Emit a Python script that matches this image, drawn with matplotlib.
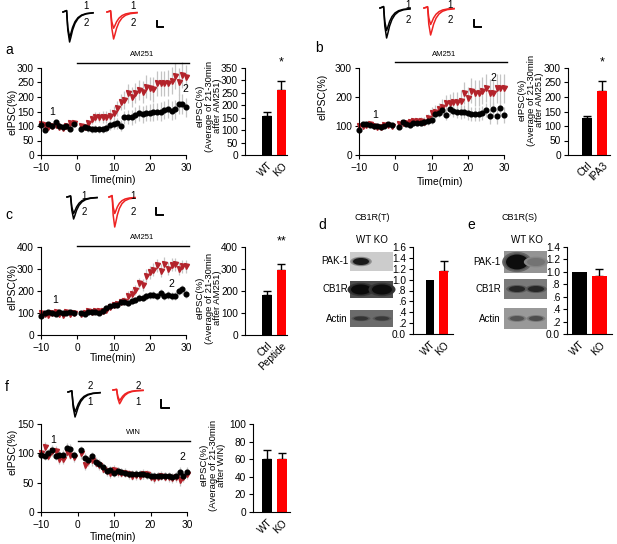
import numpy as np
import matplotlib
matplotlib.use('Agg')
import matplotlib.pyplot as plt
from matplotlib.patches import Ellipse, Rectangle

plt.rcParams['font.family'] = ['Liberation Sans', 'DejaVu Sans']
plt.rcParams['font.size'] = 7.5
plt.rcParams['axes.linewidth'] = 0.8

# ---------------- data ----------------
time = list(range(-10, 0)) + list(range(1, 31))

# panel a (WT vs KO, AM251)
a_wt = [104, 86, 106, 99, 114, 101, 98, 100, 90, 108,
        88, 98, 92, 88, 91, 88, 88, 94, 102, 106, 109, 101, 130, 130, 130,
        138, 144, 140, 144, 146, 148, 150, 150, 155, 160, 153, 157, 176, 175, 164]
a_wt_sem = [8, 7, 8, 9, 8, 7, 8, 8, 7, 8,
            10, 10, 11, 12, 12, 13, 13, 14, 15, 16, 18, 18, 22, 24, 25,
            26, 27, 28, 28, 30, 30, 30, 32, 32, 33, 33, 34, 34, 35, 34]
a_ko = [108, 103, 98, 100, 104, 96, 92, 100, 112, 110,
        100, 98, 109, 123, 132, 132, 132, 132, 136, 146, 161, 184, 190, 213, 201,
        213, 224, 218, 236, 230, 226, 247, 247, 247, 247, 256, 272, 253, 276, 268]
a_ko_sem = [6, 6, 6, 7, 6, 7, 6, 8, 7, 6,
            8, 10, 12, 15, 18, 18, 20, 20, 22, 24, 26, 28, 30, 32, 34,
            35, 36, 38, 40, 40, 42, 42, 44, 44, 45, 46, 46, 46, 44, 42]
a_bar = [155, 262]
a_bar_sem = [20, 35]
a_bar_labels = ['WT', 'KO']

# panel b (Ctrl vs IPA3, AM251)
b_ctrl = [86, 106, 107, 104, 101, 99, 95, 100, 106, 102,
          97, 113, 108, 102, 110, 111, 111, 114, 117, 121, 143, 146, 155, 138, 157,
          152, 147, 147, 149, 144, 141, 141, 141, 144, 155, 134, 157, 134, 161, 138]
b_ctrl_sem = [5, 5, 5, 6, 5, 5, 6, 5, 5, 6,
              8, 8, 9, 9, 10, 10, 10, 11, 12, 14, 16, 16, 18, 18, 20,
              20, 20, 22, 22, 22, 24, 24, 24, 25, 25, 26, 26, 26, 28, 28]
b_ipa3 = [100, 100, 104, 106, 100, 98, 96, 103, 104, 99,
          108, 109, 111, 115, 117, 117, 117, 115, 126, 144, 149, 157, 167, 178, 181,
          184, 184, 187, 213, 195, 222, 213, 213, 222, 230, 213, 213, 230, 230, 230]
b_ipa3_sem = [5, 5, 6, 5, 5, 6, 5, 5, 6, 5,
              8, 9, 10, 10, 12, 12, 14, 15, 16, 20, 22, 24, 26, 28, 30,
              32, 34, 36, 38, 40, 42, 44, 45, 46, 48, 48, 50, 50, 50, 50]
b_bar = [128, 222]
b_bar_sem = [8, 33]
b_bar_labels = ['Ctrl', 'IPA3']

# panel c (Ctrl vs Peptide, AM251)
c_ctrl = [88, 100, 104, 100, 97, 103, 98, 100, 104, 101,
          98, 96, 104, 105, 103, 101, 110, 125, 130, 136, 136, 148, 152, 146, 153,
          160, 170, 170, 176, 180, 184, 176, 192, 176, 180, 176, 176, 200, 208, 186]
c_ctrl_sem = [6, 6, 6, 7, 6, 6, 7, 6, 6, 6,
              6, 6, 7, 7, 8, 8, 9, 10, 10, 10, 12, 12, 12, 13, 14,
              14, 15, 15, 16, 16, 16, 17, 18, 18, 18, 18, 19, 20, 20, 20]
c_pep = [100, 96, 93, 100, 106, 96, 92, 103, 96, 100,
         97, 100, 108, 106, 110, 108, 108, 115, 128, 136, 140, 152, 155, 178, 188,
         205, 235, 228, 270, 285, 296, 316, 293, 324, 302, 320, 322, 302, 312, 312]
c_pep_sem = [8, 8, 8, 9, 8, 8, 9, 8, 8, 8,
             8, 8, 9, 9, 10, 10, 10, 12, 12, 14, 15, 16, 18, 20, 22,
             24, 26, 28, 30, 30, 30, 30, 30, 30, 30, 30, 30, 30, 30, 30]
c_bar = [182, 295]
c_bar_sem = [18, 28]
c_bar_labels = ['Ctrl', 'Peptide']

# panels d, e (western blots + quantification)
blot_rows = ['PAK-1', 'CB1R', 'Actin']
d_bg = [0.80, 0.30, 0.42]
d_band = [[0.10, 0.80], [0.04, 0.05], [0.20, 0.22]]
d_bar = [1.0, 1.15]
d_bar_sem = [0.0, 0.20]
e_bg = [0.58, 0.48, 0.60]
e_band = [[0.05, 0.45], [0.15, 0.15], [0.33, 0.30]]
e_bar = [1.0, 0.93]
e_bar_sem = [0.0, 0.12]
de_labels = ['WT', 'KO']

# panel f (WT vs KO, WIN)
f_wt = [98, 96, 101, 106, 95, 98, 98, 109, 108, 97,
        105, 92, 88, 95, 86, 82, 76, 70, 72, 67, 70, 68, 67, 65, 64,
        64, 65, 64, 63, 61, 62, 62, 62, 61, 61, 60, 61, 69, 62, 69]
f_wt_sem = [7, 7, 7, 8, 7, 7, 7, 8, 8, 7,
            8, 8, 8, 8, 8, 8, 7, 7, 7, 7, 7, 7, 7, 7, 7,
            7, 7, 7, 7, 7, 7, 7, 7, 7, 7, 7, 7, 8, 8, 8]
f_ko = [100, 110, 96, 104, 104, 90, 90, 103, 98, 94,
        100, 80, 87, 88, 84, 80, 74, 70, 66, 72, 68, 67, 67, 64, 62,
        63, 62, 65, 64, 60, 58, 60, 62, 60, 59, 58, 60, 54, 60, 65]
f_ko_sem = [8, 9, 8, 9, 8, 8, 9, 8, 8, 8,
            9, 9, 9, 9, 8, 8, 8, 8, 8, 8, 8, 8, 8, 8, 8,
            8, 8, 8, 8, 8, 8, 8, 8, 8, 8, 8, 9, 9, 9, 9]
f_bar = [60, 60]
f_bar_sem = [11, 7]
f_bar_labels = ['WT', 'KO']

# example trace template (normalised current vs normalised time)
trace_t = [0, 0.12, 0.16, 0.22, 0.26, 0.32, 0.4, 0.5, 0.62, 0.78, 1.0]
trace_i = [0, 0.05, -0.6, -1.0, -0.85, -0.6, -0.38, -0.22, -0.12, -0.06, -0.03]
# amplitudes of trace 1 and trace 2 (black, red) per panel
a_amp = [[0.85, 1.0], [0.6, 1.0]]
b_amp = [[0.75, 1.0], [0.55, 0.9]]
c_amp = [[0.75, 1.0], [0.55, 1.0]]
f_amp = [[1.0, 0.8], [0.55, 0.42]]

RED_PT = '#b3232b'
RED_BAR = '#ff0000'
RED_TR = '#ee2222'

# ---------------- figure ----------------
W, H = 617, 544
fig = plt.figure(figsize=(W / 100, H / 100), dpi=100)


def box(l, t, r, b):
    return fig.add_axes([l / W, 1 - b / H, (r - l) / W, (b - t) / H])


def style(ax):
    ax.spines['top'].set_visible(False)
    ax.spines['right'].set_visible(False)
    ax.tick_params(direction='out', length=3, width=0.8, labelsize=7.3, pad=2)
    ax.patch.set_visible(False)


def timecourse(ax, wt, wt_sem, ko, ko_sem, ymax, ystep):
    ax.errorbar(time, wt, yerr=wt_sem, fmt='none', ecolor='#c4c4c4', elinewidth=0.9, zorder=1, clip_on=False)
    ax.errorbar(time, ko, yerr=ko_sem, fmt='none', ecolor='#c4c4c4', elinewidth=0.9, zorder=1, clip_on=False)
    ax.plot(time, wt, 'o', color='k', markersize=3.4, zorder=3, clip_on=False)
    ax.plot(time, ko, 'v', color=RED_PT, markersize=3.6, zorder=2, clip_on=False)
    ax.set_xlim(-10, 30)
    ax.set_ylim(0, ymax)
    ax.set_xticks([-10, 0, 10, 20, 30])
    ax.set_yticks(np.arange(0, ymax + 1, ystep))
    style(ax)
    ax.tick_params(axis='x', pad=3)


def barplot(ax, vals, sem, labels, ymax, ystep, xlim, width, yticklabels=None):
    ax.bar([0, 1], vals, width, color=['k', RED_BAR], zorder=2)
    for i in range(2):
        if sem[i] > 0:
            ax.errorbar(i, vals[i], yerr=[[0], [sem[i]]], fmt='none', ecolor='k',
                        elinewidth=1.0, capsize=2.6, capthick=1.0, zorder=1)
    ax.set_xlim(*xlim)
    ax.set_ylim(0, ymax)
    ticks = np.arange(0, ymax + ystep / 2, ystep)
    ax.set_yticks(ticks)
    if yticklabels is not None:
        ax.set_yticklabels(yticklabels)
    ax.set_xticks([0, 1])
    ax.set_xticklabels(labels, rotation=45, ha='right', rotation_mode='anchor')
    style(ax)
    ax.tick_params(axis='x', length=0, pad=4)


# time courses
ax_a = box(41, 68, 186, 155)
timecourse(ax_a, a_wt, a_wt_sem, a_ko, a_ko_sem, 300, 50)
ax_b = box(359, 68, 504, 155)
timecourse(ax_b, b_ctrl, b_ctrl_sem, b_ipa3, b_ipa3_sem, 300, 100)
ax_c = box(41, 247, 186, 335)
timecourse(ax_c, c_ctrl, c_ctrl_sem, c_pep, c_pep_sem, 400, 100)
ax_f = box(41, 424, 187, 512)
timecourse(ax_f, f_wt, f_wt_sem, f_ko, f_ko_sem, 150, 50)

# drug bars and "1"/"2" markers
for ax, y_bar, y_txt, x_txt, name, p1, p2 in [
        (ax_a, 317, 345, 18, 'AM251', (-7, 148), (29.7, 228)),
        (ax_b, 320, 345, 13.4, 'AM251', (-5.6, 138), (27, 265)),
        (ax_c, 405, 441, 18, 'AM251', (-6.1, 159), (25.9, 232)),
        (ax_f, 121, 135, 15.4, 'WIN', (-6.7, 123), (28.8, 94))]:
    ax.plot([0, 30.7], [y_bar, y_bar], color='k', lw=1.0, clip_on=False)
    ax.text(x_txt, y_txt, name, ha='center', va='center', fontsize=5.5, clip_on=False)
    ax.text(p1[0], p1[1], '1', ha='center', va='center', fontsize=7.5)
    ax.text(p2[0], p2[1], '2', ha='center', va='center', fontsize=7.5)

# bar charts
bx_a = box(245, 68, 287, 155)
barplot(bx_a, a_bar, a_bar_sem, a_bar_labels, 350, 50, (-1.52, 1.38), 0.69)
bx_b = box(568, 68, 610, 155)
barplot(bx_b, b_bar, b_bar_sem, b_bar_labels, 300, 50, (-1.27, 1.53), 0.67)
bx_c = box(245, 247, 287, 335)
barplot(bx_c, c_bar, c_bar_sem, c_bar_labels, 400, 100, (-1.52, 1.38), 0.69)
bx_d = box(413, 247, 453, 334)
barplot(bx_d, d_bar, d_bar_sem, de_labels, 1.6, 0.2, (-1.26, 1.7), 0.63,
        ['0.0', '.2', '.4', '.6', '.8', '1.0', '1.2', '1.4', '1.6'])
bx_e = box(567, 247, 612, 334)
barplot(bx_e, e_bar, e_bar_sem, de_labels, 1.4, 0.2, (-0.625, 1.63), 0.75,
        ['0.0', '.2', '.4', '.6', '.8', '1.0', '1.2', '1.4'])
bx_f = box(253, 424, 290, 512)
barplot(bx_f, f_bar, f_bar_sem, f_bar_labels, 100, 20, (-0.93, 1.53), 0.67)

for ax, s in [(bx_a, '*'), (bx_b, '*'), (bx_c, '**')]:
    ax.text(1, 1.06, s, transform=ax.get_xaxis_transform(), ha='center', va='center',
            fontsize=9, clip_on=False)

# overlay in pixel coordinates for labels, traces and blots
ov = fig.add_axes([0, 0, 1, 1], zorder=10)
ov.set_xlim(0, W)
ov.set_ylim(H, 0)
ov.axis('off')
ov.patch.set_visible(False)

for x, y, s in [(5, 50, 'a'), (315, 48, 'b'), (5, 215, 'c'), (318, 225, 'd'),
                (467, 225, 'e'), (5, 387, 'f')]:
    ov.text(x, y, s, fontsize=10, ha='left', va='center')

for x, y in [(12, 112), (322, 97), (12, 287), (12, 452)]:
    ov.text(x, y, 'eIPSC(%)', rotation=90, ha='center', va='center', fontsize=7.5)
for x, y in [(113, 180), (440, 182), (113, 358), (113, 537)]:
    ov.text(x, y, 'Time(min)', ha='center', va='center', fontsize=7.5)

for x, y, drug in [(209, 106, 'AM251'), (531, 100, 'AM251'), (209, 298, 'AM251'), (213, 465, 'WIN')]:
    ov.text(x, y, 'eIPSC(%)\n(Average of 21-30min\nafter ' + drug + ')', rotation=90,
            ha='center', va='center', fontsize=6.8, multialignment='center', linespacing=0.98)


# example traces
def traces(x0, x1, y0, depth, amps, color, lab_x, lab_y, order):
    for amp in amps:
        xs = [x0 + t * (x1 - x0) for t in trace_t]
        ys = [y0 - v * amp * depth for v in trace_i]
        ov.plot(xs, ys, color=color, lw=1.1, solid_joinstyle='round')
    ov.text(lab_x, lab_y[0], order[0], fontsize=7, ha='center', va='center')
    ov.text(lab_x, lab_y[1], order[1], fontsize=7, ha='center', va='center')


def scalebar(x, y, w, h):
    ov.plot([x, x, x + w], [y - h, y, y], color='k', lw=1.4)


traces(63, 93, 12, 30, a_amp[0], 'k', 86, (6, 23), '12')
traces(107, 137, 12, 27, a_amp[1], RED_TR, 133, (6, 23), '12')
scalebar(157, 27, 6, 6)
traces(380, 410, 8, 30, b_amp[0], 'k', 408, (5, 20), '12')
traces(424, 454, 8, 30, b_amp[1], RED_TR, 450, (5, 20), '12')
scalebar(474, 27, 7, 7)
traces(67, 97, 197, 22, c_amp[0], 'k', 84, (196, 212), '12')
traces(109, 135, 197, 30, c_amp[1], RED_TR, 133, (196, 212), '12')
scalebar(156, 215, 7, 7)
traces(68, 100, 392, 25, f_amp[0], 'k', 90, (386, 402), '21')
traces(113, 143, 390, 25, f_amp[1], RED_TR, 138, (386, 402), '21')
scalebar(161, 408, 8, 8)


# western blots
def blot(l, r, rows_y, bg, band, lanes, band_w, band_h, lab_x):
    for k, (t, b) in enumerate(rows_y):
        g = bg[k]
        ov.add_patch(Rectangle((l, t), r - l, b - t, facecolor=str(g), edgecolor='none'))
        for j, cx in enumerate(lanes):
            v = band[k][j]
            cy = (t + b) / 2
            for s, a in [(1.35, 0.35), (1.15, 0.5), (1.0, 1.0)]:
                col = str(g + (v - g) * a)
                ov.add_patch(Ellipse((cx, cy), band_w[k][j] * s, band_h[k][j] * s,
                                     facecolor=col, edgecolor='none'))
        ov.text(lab_x, (t + b) / 2, blot_rows[k], ha='right', va='center', fontsize=7)


blot(350, 393, [(252, 271), (281, 298), (310, 327)], d_bg, d_band, [361, 382],
     [[16, 10], [20, 20], [14, 14]], [[7, 3], [10, 10], [4, 4]], 348)
blot(504, 547, [(251, 273), (279, 299), (308, 329)], e_bg, e_band, [517, 536],
     [[22, 18], [16, 16], [14, 14]], [[15, 8], [6, 6], [5, 5]], 501)
ov.text(372, 240, 'WT KO', ha='center', va='center', fontsize=7)
ov.text(527, 240, 'WT KO', ha='center', va='center', fontsize=7)
ov.text(372, 218, 'CB1R(T)', ha='center', va='center', fontsize=6.5)
ov.text(520, 218, 'CB1R(S)', ha='center', va='center', fontsize=6.5)

fig.savefig('out.png', dpi=100)
